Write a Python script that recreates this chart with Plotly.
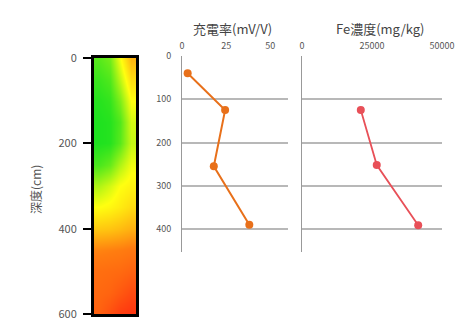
import plotly.graph_objects as go

# ---- data ----
core_depths = [0, 50, 100, 150, 200, 250, 300, 350, 400, 450, 500, 550, 600]
core_cols = [0, 1, 2, 3]
core_values = [
    [0.10, 0.14, 0.32, 0.52],
    [0.06, 0.09, 0.24, 0.42],
    [0.03, 0.05, 0.15, 0.33],
    [0.02, 0.03, 0.09, 0.27],
    [0.02, 0.03, 0.10, 0.25],
    [0.08, 0.12, 0.22, 0.31],
    [0.22, 0.27, 0.33, 0.36],
    [0.33, 0.35, 0.38, 0.42],
    [0.47, 0.48, 0.50, 0.53],
    [0.64, 0.65, 0.66, 0.68],
    [0.72, 0.73, 0.74, 0.77],
    [0.75, 0.77, 0.82, 0.88],
    [0.78, 0.86, 0.94, 0.98],
]
depth_ticks = [0, 200, 400, 600]
grid_ticks = [0, 100, 200, 300, 400]
chg_ticks = [0, 25, 50]
fe_ticks = [0, 25000, 50000]
fe_tick_labels = ["0", "25000", "50000"]
chg_depth = [40, 125, 255, 390]
chg_rate = [3.2, 24.4, 18.0, 38.1]
fe_depth = [125, 252, 391]
fe_conc = [21000, 26700, 41500]

W, H = 464, 321
def px_x(a, b):
    return [a / W, b / W]
def px_y(top, bottom):
    return [1 - bottom / H, 1 - top / H]

FONT = "Noto Sans CJK JP"
GRAY = "#555555"

fig = go.Figure()
fig.add_trace(go.Heatmap(
    x=core_cols, y=core_depths, z=core_values, zsmooth="best",
    colorscale=[[0, "#10e020"], [0.33, "#ffff10"], [0.66, "#ff7c10"], [1, "#ff3010"]],
    zmin=0, zmax=1, showscale=False, xaxis="x", yaxis="y", hoverinfo="skip"))
fig.add_trace(go.Scatter(
    x=chg_rate, y=chg_depth, mode="lines+markers",
    line=dict(color="#e8701a", width=2), marker=dict(color="#e8701a", size=8),
    xaxis="x2", yaxis="y2", showlegend=False))
fig.add_trace(go.Scatter(
    x=fe_conc, y=fe_depth, mode="lines+markers",
    line=dict(color="#e85058", width=1.8), marker=dict(color="#e85058", size=8),
    xaxis="x3", yaxis="y3", showlegend=False))

fig.update_layout(
    width=W, height=H, margin=dict(l=0, r=0, t=0, b=0),
    paper_bgcolor="white", plot_bgcolor="white",
    font=dict(family=FONT, color=GRAY, size=10),
    xaxis=dict(domain=px_x(94, 136), range=[-0.5, 3.5], showticklabels=False,
               showgrid=False, zeroline=False, showline=True, mirror=True,
               linecolor="black", linewidth=3, ticks="", automargin=False),
    yaxis=dict(domain=px_y(58, 314), range=[600, 0], anchor="x",
               tickvals=depth_ticks, showgrid=False, zeroline=False,
               showline=True, mirror=True, linecolor="black", linewidth=3,
               ticks="outside", ticklen=8, tickwidth=2, tickcolor="black",
               ticklabelstandoff=4, tickfont=dict(size=11, color=GRAY),
               ticklabeloverflow="allow", automargin=False),
    xaxis2=dict(domain=px_x(182, 288), range=[0, 60], side="top", anchor="y2",
                tickvals=chg_ticks, showgrid=False, zeroline=False,
                showline=False, ticks="", ticklabelstandoff=4,
                tickfont=dict(size=9, color=GRAY), automargin=False),
    yaxis2=dict(domain=px_y(56, 252), range=[453, 0], anchor="x2",
                tickvals=grid_ticks, showgrid=True,
                gridcolor="#b8b8b8", gridwidth=1.5, zeroline=False,
                showline=True, linecolor="#999999", linewidth=1, ticks="",
                ticklabelstandoff=8, tickfont=dict(size=9, color=GRAY),
                automargin=False),
    xaxis3=dict(domain=px_x(302, 442), range=[0, 50000], side="top", anchor="y3",
                tickvals=fe_ticks, ticktext=fe_tick_labels, showgrid=False,
                zeroline=False, showline=False, ticks="", ticklabelstandoff=4,
                tickfont=dict(size=9, color=GRAY), automargin=False),
    yaxis3=dict(domain=px_y(56, 252), range=[453, 0], anchor="x3",
                tickvals=grid_ticks, showgrid=True,
                gridcolor="#b8b8b8", gridwidth=1.5, zeroline=False,
                showline=True, linecolor="#999999", linewidth=1, ticks="",
                showticklabels=False, automargin=False),
    annotations=[
        dict(text="深度(cm)", x=36 / W, y=1 - 190 / H, xref="paper", yref="paper",
             xanchor="center", yanchor="middle",
             textangle=-90, showarrow=False, font=dict(size=12, color=GRAY)),
        dict(text="充電率(mV/V)", x=232 / W, y=1 - 28 / H, xref="paper", yref="paper",
             xanchor="center", yanchor="middle",
             showarrow=False, font=dict(size=13, color="#444444")),
        dict(text="Fe濃度(mg/kg)", x=380 / W, y=1 - 28 / H, xref="paper", yref="paper",
             xanchor="center", yanchor="middle",
             showarrow=False, font=dict(size=13, color="#444444")),
    ],
)

fig.write_html("out.html", config={"displayModeBar": False},
               post_script="document.body.style.margin='0';")
